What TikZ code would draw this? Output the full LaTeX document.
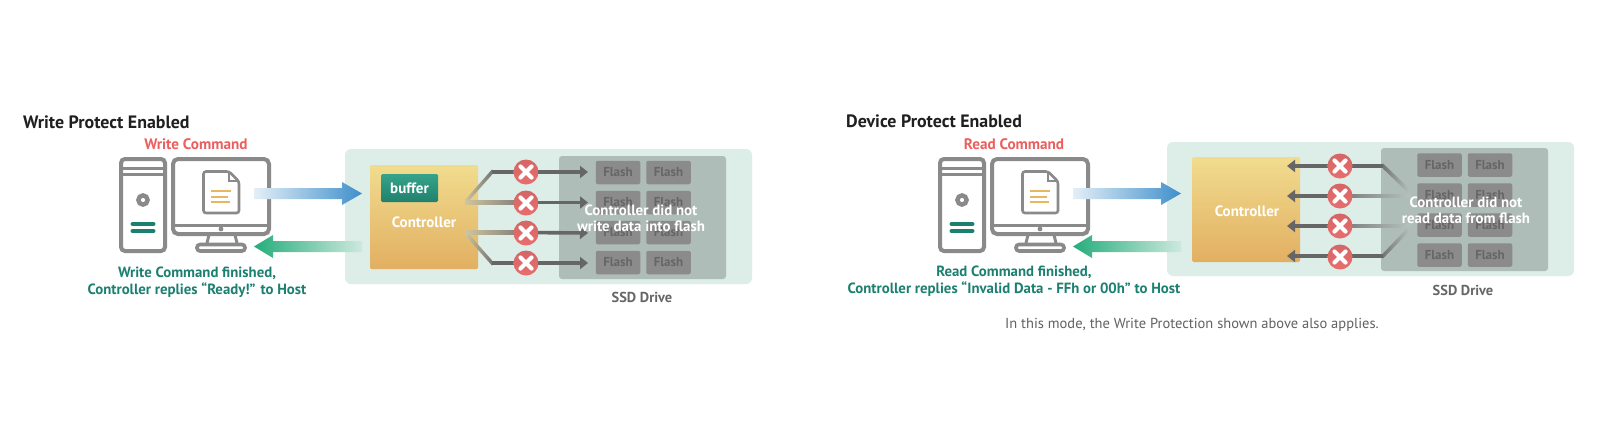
\documentclass[tikz,border=0pt]{standalone}
\usepackage{fontspec}
\setmainfont{PT Sans}
\usetikzlibrary{arrows.meta}
\definecolor{iconGray}{HTML}{8A8A8A}
\definecolor{tealText}{HTML}{1C8070}
\definecolor{redText}{HTML}{EC5F5F}
\definecolor{panelTeal}{HTML}{DDEDE8}
\definecolor{panelGray}{HTML}{AFBDB9}
\definecolor{flashFill}{HTML}{8B8B8B}
\definecolor{flashText}{HTML}{666666}
\definecolor{lineDark}{HTML}{666666}
\definecolor{lineOnCtrl}{HTML}{CFC59C}
\definecolor{lineFade}{HTML}{B4C2BE}
\definecolor{blueEnd}{HTML}{3F8FCB}
\definecolor{blueStart}{HTML}{E4EFF7}
\definecolor{greenEnd}{HTML}{26AD7C}
\definecolor{greenStart}{HTML}{CDE9DF}
\definecolor{docYellow}{HTML}{E8B860}
\definecolor{ctrlTop}{HTML}{F1DC8E}
\definecolor{ctrlBot}{HTML}{E2AF62}
\definecolor{bufTop}{HTML}{35A38A}
\definecolor{bufBot}{HTML}{21806F}
\definecolor{xTop}{HTML}{D66565}
\definecolor{xBot}{HTML}{E86E6E}
\newcommand{\sz}[1]{\fontsize{#1}{#1}\selectfont}
\newcommand{\crossmark}[2]{% name, position
  \node[xcircle] (#1) at (#2) {};
  \draw[xstroke] ([xshift=-5.5pt,yshift=-5.5pt]#1.center) -- ([xshift=5.5pt,yshift=5.5pt]#1.center);
  \draw[xstroke] ([xshift=-5.5pt,yshift=5.5pt]#1.center) -- ([xshift=5.5pt,yshift=-5.5pt]#1.center);
}
\newcommand{\fadebar}[5]{% left, right, left colour, right colour, half width
  \path[left color=#3,right color=#4] ([yshift=#5]#1) -- ([yshift=#5]#2) -- ([yshift=-#5]#2) -- ([yshift=-#5]#1) -- cycle;
}
\tikzset{
  x=1pt,y=-1pt,
  icon/.style={draw=iconGray,line width=4pt,rounded corners=4pt},
  iconthin/.style={draw=iconGray,line width=3pt},
  tealbar/.style={draw=tealText,line width=4pt,line cap=round},
  docline/.style={draw=docYellow,line width=2pt},
  title/.style={font=\sz{17.9}\bfseries,text=black!88,anchor=west,inner sep=0pt},
  cmd/.style={font=\sz{15.2}\bfseries,text=redText,inner sep=0pt},
  reply/.style={font=\sz{14.8}\bfseries,text=tealText,inner sep=0pt,align=center},
  ctrl/.style={rounded corners=1.5pt,top color=ctrlTop,bottom color=ctrlBot,inner sep=0pt},
  flashbox/.style={fill=flashFill,rounded corners=2pt,minimum width=44.5pt,minimum height=23.5pt,inner sep=0pt,text=flashText,font=\sz{13}\bfseries},
  xcircle/.style={circle,minimum size=25pt,inner sep=0pt,top color=xTop,bottom color=xBot},
  xstroke/.style={draw=white,line width=4.2pt,line cap=round},
  darkarrow/.style={draw=lineDark,line width=3.6pt,-{Triangle[length=8pt,width=12pt]}},
  overlay text/.style={font=\sz{14.9}\bfseries,text=white,inner sep=0pt,align=center},
  ssd/.style={font=\sz{14.4}\bfseries,text=black!60,inner sep=0pt},
  computer/.pic={
    \draw[icon] (121,159) rectangle (165,251);
    \draw[iconthin] (121,168) -- (165,168);
    \draw[iconthin] (121,174) -- (165,174);
    \draw[draw=iconGray,line width=4.4pt] (143,200) circle (4.6pt);
    \draw[tealbar] (132.5,224) -- (153.5,224);
    \draw[tealbar] (132.5,231) -- (153.5,231);
    \draw[icon,rounded corners=5pt] (173,159) rectangle (269,234);
    \draw[iconthin] (173,225) -- (269,225);
    \fill[iconGray] (221,229) circle (2.4pt);
    \draw[iconthin] (209,235) -- (207,243);
    \draw[iconthin] (235,235) -- (237,243);
    \draw[icon,line width=3.6pt,rounded corners=3pt] (197,244.5) rectangle (245,251);
    \draw[draw=iconGray,fill=white,line width=2.6pt,rounded corners=2.5pt] (203.5,171.5) -- (229,171.5) -- (239,181.5) -- (239,213) -- (203.5,213) -- cycle;
    \draw[draw=iconGray,line width=2.2pt] (229,171.5) -- (229,181) -- (239,181);
    \draw[docline] (211,191) -- (231,191);
    \draw[docline] (211,197) -- (228,197);
    \draw[docline] (211,202) -- (230,202);
  }
}
\begin{document}
\begin{tikzpicture}
\useasboundingbox[fill=white] (0,0) rectangle (1598,421);
%% ---- LEFT ----
\node[title] (titleL) at (23,122) {Write Protect Enabled};
\node[cmd] (cmdL) at (196,144) {Write Command};
\pic (pcL) at (0,0) {computer};
\node[reply] (replyL) at (197,282) {Write Command finished,\\[2pt]Controller replies “Ready!” to Host};
\node[fill=panelTeal,rounded corners=6pt,minimum width=407pt,minimum height=135pt,inner sep=0pt] (driveL) at (548.5,216.5) {};
\node[fill=panelGray,rounded corners=3pt,minimum width=167pt,minimum height=123pt,inner sep=0pt] (grayL) at (642.5,217.5) {};
\node[ctrl,minimum width=108pt,minimum height=104pt] (ctrlL) at (424,217) {};
\node[rounded corners=1.5pt,top color=bufTop,bottom color=bufBot,minimum width=57pt,minimum height=28pt,inner sep=0pt,text=white,font=\sz{15}\bfseries] (bufL) at (409.5,188) {buffer};
\node[font=\sz{15}\bfseries,text=white,inner sep=0pt] (ctrlTextL) at (424,222) {Controller};
\foreach \n/\xx/\yy in {a/618/172.5,b/668.5/172.5,c/618/202.5,d/668.5/202.5,e/618/232.5,f/668.5/232.5,g/618/262.5,h/668.5/262.5}
  \node[flashbox] (fl\n) at (\xx,\yy) {Flash};
\coordinate (bluefromL) at (254,193.5);
\coordinate (bluetoL) at (362,193.5);
\coordinate (greenfromL) at (362,246.5);
\coordinate (greentoL) at (254,246.5);
\path[left color=blueStart,right color=blueEnd] (bluefromL) ++(0,-5.5) -- ++(88,0) -- ++(0,-6) -- (bluetoL) -- ++(-20,11.5) -- ++(0,-6) -- ++(-88,0) -- cycle;
\path[left color=greenEnd,right color=greenStart] (greentoL) -- ++(19,-11.5) -- ++(0,6) -- ++(89,0) -- ++(0,11) -- ++(-89,0) -- ++(0,6) -- cycle;
\coordinate (sa) at (465,202.5);
\coordinate (sb) at (465,232.5);
\coordinate (ka) at (492,172);
\coordinate (kd) at (492,263);
\coordinate (ma) at (522,202.5);
\coordinate (mb) at (522,232.5);
\coordinate (ta) at (588,172);
\coordinate (tb) at (588,202.5);
\coordinate (tc) at (588,233);
\coordinate (td) at (588,263);
\fadebar{sa}{ka}{lineOnCtrl}{lineDark!90}{2.6pt}
\fadebar{sb}{kd}{lineOnCtrl}{lineDark!90}{2.6pt}
\fadebar{sa}{ma}{lineOnCtrl}{lineDark!85}{1.8pt}
\fadebar{sb}{mb}{lineOnCtrl}{lineDark!85}{1.8pt}
\draw[darkarrow] (ka) -- (ta);
\draw[darkarrow] (ma) -- (tb);
\draw[darkarrow] (mb) -- (tc);
\draw[darkarrow] (kd) -- (td);
\crossmark{xa}{526,172}
\crossmark{xb}{526,203}
\crossmark{xc}{526,233}
\crossmark{xd}{526,263}
\node[overlay text] (noteL) at (641,218.5) {Controller did not\\[1pt]write data into flash};
\node[ssd] (ssdL) at (642,297) {SSD Drive};
%% ---- RIGHT ----
\node[title] (titleR) at (846,121) {Device Protect Enabled};
\node[cmd] (cmdR) at (1014,144) {Read Command};
\pic (pcR) at (819,0) {computer};
\node[reply] (replyR) at (1014,281) {Read Command finished,\\[2pt]Controller replies “Invalid Data - FFh or 00h” to Host};
\node[fill=panelTeal,rounded corners=6pt,minimum width=407pt,minimum height=134pt,inner sep=0pt] (driveR) at (1370.5,209) {};
\node[fill=panelGray,rounded corners=3pt,minimum width=167pt,minimum height=123pt,inner sep=0pt] (grayR) at (1464.5,209.5) {};
\node[ctrl,minimum width=108pt,minimum height=105pt] (ctrlR) at (1246,209.5) {};
\node[font=\sz{15}\bfseries,text=white,inner sep=0pt] (ctrlTextR) at (1247,211) {Controller};
\foreach \n/\xx/\yy in {a/1439.5/165,b/1490/165,c/1439.5/195,d/1490/195,e/1439.5/225,f/1490/225,g/1439.5/255,h/1490/255}
  \node[flashbox] (gl\n) at (\xx,\yy) {Flash};
\coordinate (bluefromR) at (1073,193.5);
\coordinate (bluetoR) at (1181,193.5);
\coordinate (greenfromR) at (1181,246.5);
\coordinate (greentoR) at (1073,246.5);
\path[left color=blueStart,right color=blueEnd] (bluefromR) ++(0,-5.5) -- ++(88,0) -- ++(0,-6) -- (bluetoR) -- ++(-20,11.5) -- ++(0,-6) -- ++(-88,0) -- cycle;
\path[left color=greenEnd,right color=greenStart] (greentoR) -- ++(19,-11.5) -- ++(0,6) -- ++(89,0) -- ++(0,11) -- ++(-89,0) -- ++(0,6) -- cycle;
\coordinate (ua) at (1410,192);
\coordinate (ub) at (1410,228);
\coordinate (ja) at (1383,166);
\coordinate (jd) at (1383,256);
\coordinate (na) at (1410,196);
\coordinate (nb) at (1410,226);
\coordinate (pa) at (1344,196);
\coordinate (pb) at (1344,226);
\coordinate (va) at (1287,166);
\coordinate (vb) at (1287,196);
\coordinate (vc) at (1287,226);
\coordinate (vd) at (1287,256);
\fadebar{ja}{ua}{lineDark!90}{lineFade}{2.6pt}
\fadebar{jd}{ub}{lineDark!90}{lineFade}{2.6pt}
\fadebar{pa}{na}{lineDark!85}{lineFade}{1.8pt}
\fadebar{pb}{nb}{lineDark!85}{lineFade}{1.8pt}
\draw[darkarrow] (ja) -- (va);
\draw[darkarrow] (pa) -- (vb);
\draw[darkarrow] (pb) -- (vc);
\draw[darkarrow] (jd) -- (vd);
\crossmark{ya}{1340,166}
\crossmark{yb}{1340,196}
\crossmark{yc}{1340,226}
\crossmark{yd}{1340,257}
\node[overlay text] (noteR) at (1466,210) {Controller did not\\[1pt]read data from flash};
\node[ssd] (ssdR) at (1463,290) {SSD Drive};
\node[font=\sz{14.5},text=black!62,inner sep=0pt] (modeNote) at (1192,325) {In this mode, the Write Protection shown above also applies.};
\end{tikzpicture}
\end{document}
